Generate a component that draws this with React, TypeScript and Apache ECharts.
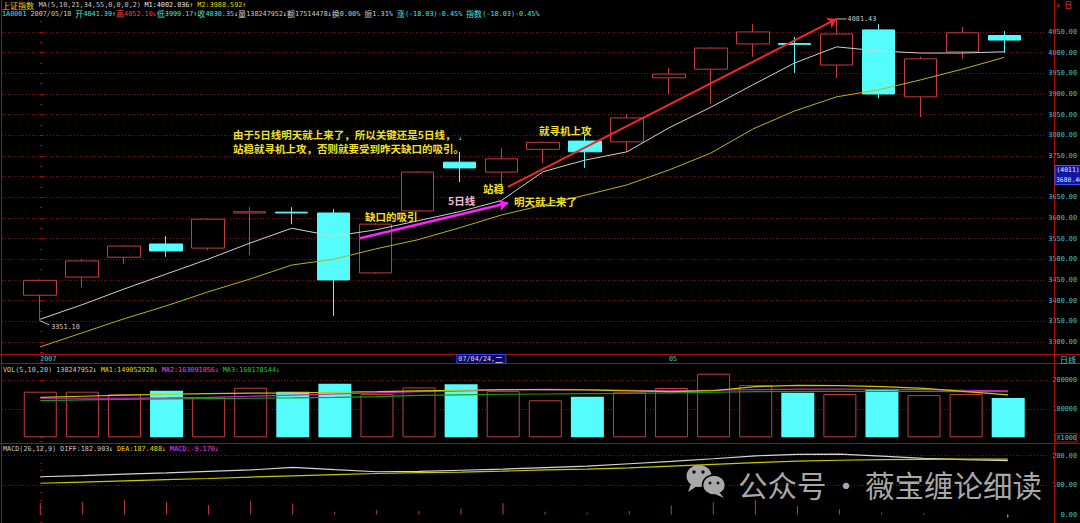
import React, { useEffect, useRef } from "react";
import * as echarts from "echarts";

// ---------------- data ----------------
const dates = [
  "2007-04-10", "2007-04-11", "2007-04-12", "2007-04-13", "2007-04-16", "2007-04-17",
  "2007-04-18", "2007-04-19", "2007-04-20", "2007-04-23", "2007-04-24", "2007-04-25",
  "2007-04-26", "2007-04-27", "2007-04-30", "2007-05-08", "2007-05-09", "2007-05-10",
  "2007-05-11", "2007-05-14", "2007-05-15", "2007-05-16", "2007-05-17", "2007-05-18",
];
const opens = [3413, 3457, 3505, 3537, 3527, 3612, 3614, 3612, 3467, 3617, 3735, 3711, 3766, 3786, 3784, 3939, 3960, 4021, 4022, 3970, 4055, 3893, 4002, 4041.39];
const closes = [3449, 3496, 3532, 3520, 3597, 3615, 3612, 3450, 3585, 3711, 3721, 3743, 3783, 3760, 3842, 3948, 4011, 4050, 4020, 4045, 3900, 3985, 4048, 4030.35];
const lows = [3351.1, 3431, 3489, 3506, 3522, 3510, 3585, 3363, 3465, 3615, 3687, 3656, 3732, 3721, 3760, 3900, 3876, 3990, 3951, 3939, 3890, 3844, 3985, 3999.17];
const highs = [3451, 3500, 3534, 3556, 3599, 3626, 3626, 3622, 3588, 3713, 3760, 3769, 3785, 3803, 3852, 3963, 4013, 4069, 4038, 4081.43, 4069, 3990, 4062, 4052.1];

const ma5 = [3355, 3390, 3428, 3464, 3500, 3539, 3575, 3556, 3571, 3593, 3615, 3642, 3712, 3740, 3760, 3818, 3868, 3922, 3975, 4014, 4004, 3999, 3999, 4002.04];
const ma10 = [3288, 3322, 3356, 3387, 3421, 3452, 3486, 3500, 3525, 3547, 3576, 3607, 3631, 3655, 3680, 3716, 3757, 3815, 3859, 3893, 3910, 3934, 3960, 3988.59];

// volume in thousands (X1000)
const volumes = [160000, 160000, 151000, 163000, 140000, 174000, 160000, 188000, 152000, 175000, 186000, 162000, 130000, 142000, 158000, 173000, 223000, 183000, 156000, 152000, 169000, 148000, 152000, 138248];
const volMa5 = [140000, 144000, 148000, 151000, 153000, 155000, 156000, 158000, 160000, 163000, 165000, 167000, 167000, 166000, 163000, 160000, 164000, 178000, 182000, 181000, 178000, 172000, 160000, 149053];
const volMa10 = [137000, 137000, 137000, 138000, 140000, 144000, 148000, 152000, 156000, 160000, 163000, 166000, 168000, 167000, 165000, 163000, 165000, 167000, 169000, 169000, 168000, 167000, 165000, 163091];
const volMa20 = [129000, 131000, 133000, 135000, 136000, 137000, 138000, 140000, 143000, 147000, 149000, 151000, 152000, 153000, 154000, 156000, 158000, 160000, 161000, 161000, 161000, 161000, 160000, 160179];

const diff = [128, 132, 137, 141, 146, 151, 160, 152, 145, 146, 150, 154, 159, 164, 172, 180, 189, 199, 204, 205, 198, 190, 186, 182.9];
const dea = [106, 110, 114, 118, 122, 127, 131, 135, 139, 142, 144, 147, 151, 154, 158, 164, 170, 176, 181, 184, 186, 187, 188, 187.49];
const macd = [40, 43, 49, 42, 32, 46, 37, 9, 16, 12, 20, 38, 9, 7, 12, 31, 42, 48, 29, 18, 7, 4, 1, -9.17];

const dateTickLabels = [{ index: 0, text: "2007" }, { index: 15, text: "05" }];
const cursorDate = { index: 10, text: "07/04/24,二" };
const cursorPrice = { count: "(4011)", value: "3680.40" };
const redArrow = [[11.16, 3675], [19, 4081.43]];
const pinkArrow = [[7.63, 3551], [11.16, 3636]];

// ---------------- styles ----------------
const FRAME = "#a80c0c";
const DOT = "#7c1010";
const UP = "#c43c3c";
const DOWN = "#54fcfc";
const AXT = "#46c8c8";
const GRAY = "#c8c8c8";
const WHITE = "#e8e8e8";
const YEL = "#e8d800";
const CYAN = "#48e0e0";
const RED = "#ff3c3c";
const MAG = "#f040f0";
const GRN = "#20c820";
const MONO = "DejaVu Sans Mono";
const CJK = "Noto Sans CJK SC";
const U = 4.07;

const XMIN = -0.91;
const XMAX = 23.98;
const GRID_W = 1052;

function splitColors(n: number, show: number[]) {
  const arr: string[] = [];
  for (let i = 0; i < n; i++) arr.push(show.indexOf(i) >= 0 ? DOT : "rgba(0,0,0,0)");
  return arr;
}

function buildOption() {
  const axisCommon = {
    axisLine: { show: false },
    axisTick: { show: true, length: 3, lineStyle: { color: FRAME } },
  };
  const labelCommon = { color: AXT, fontFamily: MONO, fontSize: 6.8 };
  const isUp = (i: number) => closes[i] >= opens[i];
  const priceShow: number[] = [];
  for (let i = 1; i < 17; i++) priceShow.push(i);

  return {
    backgroundColor: "#000000",
    animation: false,
    grid: [
      { left: 2, top: 11.3, width: GRID_W, height: 351.3 },
      { left: 2, top: 351.8, width: GRID_W, height: 85.5 },
      { left: 2, top: 426, width: GRID_W, height: 95.9 },
    ],
    xAxis: [0, 1, 2].map((g) => ({ type: "value", gridIndex: g, min: XMIN, max: XMAX, show: false })),
    yAxis: [
      {
        type: "value", gridIndex: 0, position: "right", min: 3250, max: 4100, interval: 50,
        ...axisCommon,
        minorTick: { show: true, splitNumber: 2, length: 2, lineStyle: { color: FRAME } },
        // 3700 is covered by the cursor price box in the reference
        axisLabel: { ...labelCommon, margin: 3, formatter: (v: number) => (v === 3250 || v === 4100 || v === 3700 ? "" : v.toFixed(2)) },
        splitLine: { show: true, lineStyle: { color: splitColors(18, priceShow), type: [1, 2], width: 1 } },
      },
      {
        type: "value", gridIndex: 1, position: "right", min: 0, max: 300000, interval: 100000,
        ...axisCommon,
        axisLabel: { ...labelCommon, margin: 3, formatter: (v: number) => (v === 100000 || v === 200000 ? String(v) : "") },
        splitLine: { show: true, lineStyle: { color: splitColors(4, [1, 2]), type: [1, 2], width: 1 } },
      },
      {
        type: "value", gridIndex: 2, position: "right", min: -25, max: 300, interval: 25,
        ...axisCommon,
        axisTick: { show: true, length: 2, lineStyle: { color: FRAME } },
        axisLabel: { ...labelCommon, margin: 28, align: "right", formatter: (v: number) => (v === 0 || v === 100 || v === 200 ? v.toFixed(2) : "") },
        splitLine: { show: true, lineStyle: { color: splitColors(14, [5, 9]), type: [1, 2], width: 1 } },
      },
    ],
    series: [
      {
        type: "candlestick", xAxisIndex: 0, yAxisIndex: 0, barWidth: 33,
        encode: { x: 0, y: [1, 2, 3, 4] },
        data: opens.map((o, i) => [i, o, closes[i], lows[i], highs[i]]),
        itemStyle: { color: "#000000", color0: DOWN, borderColor: UP, borderColor0: DOWN, borderWidth: 1 },
        silent: true,
      },
      {
        type: "line", xAxisIndex: 0, yAxisIndex: 0, symbol: "none", silent: true,
        data: ma5.map((v, i) => [i, v]),
        lineStyle: { color: "#cfcfcf", width: 1 },
        markLine: {
          silent: true, symbol: ["none", "arrow"], symbolSize: 9, label: { show: false },
          data: [
            [{ coord: redArrow[0], lineStyle: { color: "#f02828", width: 2, type: "solid" } }, { coord: redArrow[1] }],
            [{ coord: pinkArrow[0], lineStyle: { color: "#ff22ff", width: 2.5, type: "solid" } }, { coord: pinkArrow[1] }],
          ],
        },
      },
      {
        type: "line", xAxisIndex: 0, yAxisIndex: 0, symbol: "none", silent: true,
        data: ma10.map((v, i) => [i, v]),
        lineStyle: { color: "#b4b41e", width: 1 },
      },
      {
        type: "bar", xAxisIndex: 1, yAxisIndex: 1, barWidth: 33, silent: true,
        data: volumes.map((v, i) => ({
          value: [i, v],
          itemStyle: isUp(i) ? { color: "#000000", borderColor: UP, borderWidth: 1 } : { color: DOWN },
        })),
      },
      { type: "line", xAxisIndex: 1, yAxisIndex: 1, symbol: "none", silent: true, data: volMa20.map((v, i) => [i, v]), lineStyle: { color: "#10a010", width: 1.2 } },
      { type: "line", xAxisIndex: 1, yAxisIndex: 1, symbol: "none", silent: true, data: volMa10.map((v, i) => [i, v]), lineStyle: { color: "#d020d0", width: 1.2 } },
      { type: "line", xAxisIndex: 1, yAxisIndex: 1, symbol: "none", silent: true, data: volMa5.map((v, i) => [i, v]), lineStyle: { color: "#c8c800", width: 1.2 } },
      {
        type: "bar", xAxisIndex: 2, yAxisIndex: 2, barWidth: 1, silent: true,
        data: macd.map((v, i) => ({ value: [i, v], itemStyle: { color: v >= 0 ? UP : DOWN } })),
      },
      { type: "line", xAxisIndex: 2, yAxisIndex: 2, symbol: "none", silent: true, data: diff.map((v, i) => [i, v]), lineStyle: { color: "#d4d4d4", width: 1.2 } },
      { type: "line", xAxisIndex: 2, yAxisIndex: 2, symbol: "none", silent: true, data: dea.map((v, i) => [i, v]), lineStyle: { color: "#c8c800", width: 1.2 } },
    ],
  };
}

function txt(x: number, y: number, text: string, fill: string, fontSize: number, fontFamily: string, extra: any = {}) {
  return {
    type: "text", x, y, silent: true, z: 100,
    style: {
      text, fill, fontSize, fontFamily,
      align: extra.align || "left", textAlign: extra.align || "left",
      verticalAlign: "middle", textVerticalAlign: "middle",
      fontWeight: extra.fontWeight || "normal",
    },
  };
}

function headerLine(segs: [string, string][], x0: number, y: number) {
  const out: any[] = [];
  let u = 0;
  for (const [text, color] of segs) {
    let run = "";
    let runWide = false;
    let runStart = u;
    const flush = () => {
      if (!run) return;
      out.push(txt(x0 + runStart * U, y, run, color, runWide ? 8 : 6.8, runWide ? CJK : MONO));
      run = "";
    };
    for (const ch of text) {
      const wide = ch.charCodeAt(0) > 0x2e80;
      if (run && wide !== runWide) flush();
      if (!run) { runStart = u; runWide = wide; }
      run += ch;
      u += wide ? 2 : 1;
    }
    flush();
  }
  return out;
}

function line(x1: number, y1: number, x2: number, y2: number, stroke: string, lineWidth = 1) {
  return { type: "line", silent: true, z: 90, shape: { x1, y1, x2, y2 }, style: { stroke, lineWidth } };
}

function buildGraphic(chart: any) {
  const P = (g: number, x: number, y: number) => chart.convertToPixel({ gridIndex: g }, [x, y]) as number[];
  const els: any[] = [];

  // frame
  els.push(line(1.5, 0, 1.5, 523, FRAME));
  els.push(line(1054.5, 0, 1054.5, 523, FRAME));
  els.push(line(0, 354.5, 1080, 354.5, FRAME));
  els.push(line(0, 363.5, 1080, 363.5, FRAME));
  els.push(line(0, 443.5, 1080, 443.5, FRAME));

  // headers
  els.push(...headerLine([
    ["上证指数", YEL], [" MA(5,10,21,34,55,0,0,0,2) ", GRAY], ["M1:4002.036", WHITE], ["↑", YEL], [" ", GRAY],
    ["M2:3988.592", YEL], ["↑", YEL],
  ], 2, 5));
  els.push(...headerLine([
    ["1A0001 ", CYAN], ["2007/05/18 ", GRAY], ["开4041.39", CYAN], ["↑", CYAN], ["高4052.10", RED], ["↓", RED],
    ["低3999.17", CYAN], ["↑", CYAN], ["收4030.35", CYAN], ["↓", WHITE], ["量138247952", GRAY], ["↓", WHITE],
    ["额17514478", GRAY], ["↓", WHITE], ["换0.00% ", GRAY], ["振1.31% ", GRAY], ["涨(-18.03)-0.45% ", CYAN],
    ["指数(-18.03)-0.45%", CYAN],
  ], 2, 13.5));
  els.push(...headerLine([
    ["VOL(5,10,20) 138247952", GRAY], ["↓", WHITE], [" ", GRAY], ["MA1:149052928", YEL], ["↓", YEL], [" ", GRAY],
    ["MA2:163091056", MAG], ["↓", MAG], [" ", GRAY], ["MA3:160178544", GRN], ["↓", GRN],
  ], 3, 369.5));
  els.push(...headerLine([
    ["MACD(26,12,9) DIFF:182.903", GRAY], ["↓", WHITE], [" ", GRAY], ["DEA:187.488", YEL], ["↓", YEL], [" ", GRAY],
    ["MACD:-9.170", MAG], ["↓", MAG],
  ], 3, 448.5));
  els.push(...headerLine([["↓", RED], [" 日", RED]], 1056, 4.5));

  // date row
  for (const d of dateTickLabels) {
    const x = P(0, d.index, 3300)[0];
    els.push(txt(x, 359, d.text, AXT, 6.8, MONO));
  }
  const cx = P(0, cursorDate.index, 3300)[0];
  els.push({ type: "rect", silent: true, z: 95, shape: { x: cx - 2.5, y: 354.5, width: 49, height: 9 }, style: { fill: "#0c0c58", stroke: "#3c3cff", lineWidth: 1 } });
  els.push(...headerLine([[cursorDate.text, "#d8d8ff"]], cx - 1, 359));

  // right side boxes
  els.push(...headerLine([["日线", AXT]], 1060, 359));
  els.push({ type: "rect", silent: true, z: 95, shape: { x: 1055.5, y: 433.5, width: 21, height: 8.5 }, style: { fill: "#000", stroke: FRAME, lineWidth: 1 } });
  els.push(txt(1056.5, 438, "X1000", AXT, 6.8, MONO));
  els.push({ type: "rect", silent: true, z: 95, shape: { x: 1055, y: 165.5, width: 26, height: 19 }, style: { fill: "#1414a0", stroke: "#4848ff", lineWidth: 1 } });
  els.push(txt(1056.5, 170, cursorPrice.count, "#e8e8ff", 6.4, MONO));
  els.push(txt(1056, 180, cursorPrice.value, "#d0e8ff", 6.4, MONO));

  // low / high labels
  const pl = P(0, 0, lows[0]);
  els.push(line(pl[0], pl[1], pl[0] + 9, pl[1] + 4, "#bbbbbb"));
  els.push(txt(pl[0] + 11, pl[1] + 6, lows[0].toFixed(2), "#c8c8c8", 6.8, MONO));
  const hi = highs.indexOf(Math.max(...highs));
  const ph = P(0, hi, highs[hi]);
  els.push(line(ph[0], ph[1], ph[0] + 10, ph[1], "#bbbbbb"));
  els.push(txt(ph[0] + 11, ph[1], highs[hi].toFixed(2), "#c8c8c8", 6.8, MONO));

  // marker above candle
  const pm = P(0, cursorDate.index, highs[cursorDate.index]);
  els.push(txt(pm[0] + 1, pm[1] - 14, "↓", DOWN, 6.2, MONO, { align: "center" }));

  // annotations
  const AY = "#f0e028";
  const ann = (x: number, y: number, t: string, c = AY) => txt(x, y, t, c, 10.5, CJK, { fontWeight: "bold" });
  els.push(ann(233, 134, "由于5日线明天就上来了，所以关键还是5日线，"));
  els.push(ann(233, 148, "站稳就寻机上攻，否则就要受到昨天缺口的吸引。"));
  els.push(ann(365, 216, "缺口的吸引"));
  els.push(ann(448, 200, "5日线", "#f4b8d8"));
  els.push(ann(483, 188, "站稳"));
  els.push(ann(514, 201, "明天就上来了"));
  els.push(ann(539, 130, "就寻机上攻"));

  // watermark
  const WM = "#a8a8a8";
  els.push({ type: "ellipse", silent: true, z: 110, shape: { cx: 699, cy: 476, rx: 12.5, ry: 11 }, style: { fill: WM } });
  els.push({ type: "polygon", silent: true, z: 110, shape: { points: [[691, 484], [688, 492], [697, 486]] }, style: { fill: WM } });
  els.push({ type: "ellipse", silent: true, z: 111, shape: { cx: 714, cy: 485, rx: 11.5, ry: 10 }, style: { fill: WM, stroke: "#000", lineWidth: 1.5 } });
  els.push({ type: "polygon", silent: true, z: 111, shape: { points: [[719, 492], [724, 498], [715, 494]] }, style: { fill: WM } });
  for (const [x, y, r, z] of [[694, 472, 1.7, 112], [703, 472, 1.7, 112], [710, 483, 1.5, 113], [718, 483, 1.5, 113]]) {
    els.push({ type: "circle", silent: true, z, shape: { cx: x, cy: y, r }, style: { fill: "#111" } });
  }
  els.push(txt(738, 484, "公众号", WM, 29.5, CJK));
  els.push(txt(846, 484, "·", WM, 29.5, CJK, { align: "center" }));
  els.push(txt(865, 484, "薇宝缠论细读", WM, 29.5, CJK));

  return els;
}

export default function App() {
  const ref = useRef<HTMLDivElement>(null);
  useEffect(() => {
    document.body.style.margin = "0";
    document.body.style.background = "#000";
    const chart = echarts.init(ref.current as HTMLDivElement, null, { renderer: "svg", width: 1080, height: 523 });
    chart.setOption(buildOption() as any);
    chart.setOption({ graphic: { elements: buildGraphic(chart) } } as any);
    return () => chart.dispose();
  }, []);
  return <div ref={ref} style={{ position: "absolute", left: 0, top: 0, width: 1080, height: 523, background: "#000" }} />;
}
